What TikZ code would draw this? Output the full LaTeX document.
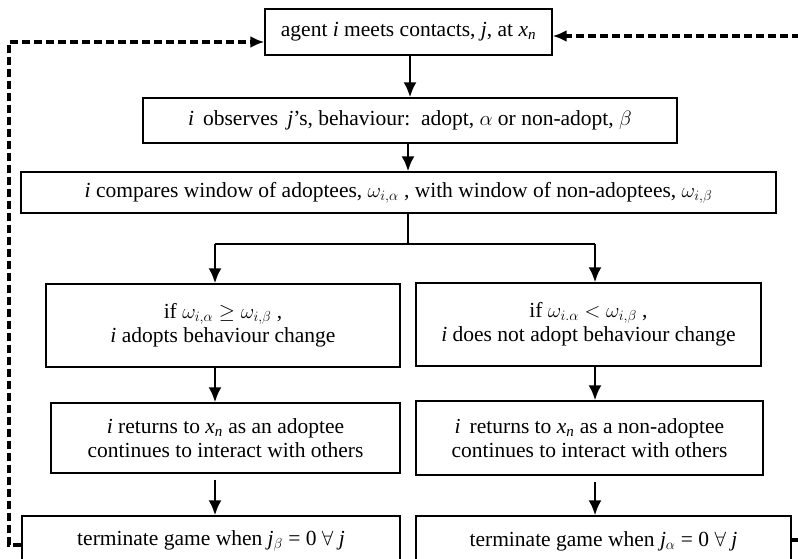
\documentclass[tikz,border=0pt]{standalone}
\usepackage{fontspec}
\setmainfont{Liberation Serif}
\usetikzlibrary{arrows.meta,calc}
\begin{document}
\begin{tikzpicture}[x=1pt,y=-1pt,
  box/.style={draw, line width=1.3pt, align=center, inner sep=2pt,
    font=\fontsize{21.5}{24}\selectfont},
  flow/.style={line width=2.6pt, -{Latex[length=15pt,width=13pt]}},
  back/.style={line width=3.2pt, dash pattern=on 8pt off 4pt, -{Latex[length=14pt,width=12pt]}}]
\useasboundingbox (0,0) rectangle (798,559);
\node[box, minimum width=287pt, minimum height=46pt] (B1) at (408.5,32)
  {agent \textit{i} meets contacts, \textit{j}, at \textit{x\textsubscript{n}}};
\node[box, minimum width=534pt, minimum height=45pt] (B2) at (410,120.5)
  {\textit{i}\, observes\, \textit{j}'s, behaviour:\, adopt, $\alpha$ or non-adopt, $\beta$};
\node[box, minimum width=755pt, minimum height=41pt] (B3) at (398.5,192.5)
  {\textit{i} compares window of adoptees, $\omega_{i,\alpha}$ , with window of non-adoptees, $\omega_{i,\beta}$};
\node[box, minimum width=354pt, minimum height=83pt] (B4L) at (223,325.5)
  {if $\omega_{i,\alpha}\geq\omega_{i,\beta}$ ,\\ \textit{i} adopts behaviour change};
\node[box, minimum width=345pt, minimum height=83pt] (B4R) at (588.5,324.5)
  {if $\omega_{i.\alpha}<\omega_{i,\beta}$ ,\\ \textit{i} does not adopt behaviour change};
\node[box, minimum width=349pt, minimum height=70pt] (B5L) at (225.5,438)
  {\textit{i} returns to \textit{x\textsubscript{n}} as an adoptee\\ continues to interact with others};
\node[box, minimum width=347pt, minimum height=74pt] (B5R) at (589.5,438)
  {\textit{i}\, returns to \textit{x\textsubscript{n}} as a non-adoptee\\ continues to interact with others};
\node[box, minimum width=378pt, minimum height=50pt] (B6L) at (211,541)
  {terminate game when \textit{j}\textsubscript{$\beta$} = 0 $\forall$ \textit{j}};
\node[box, minimum width=375pt, minimum height=50pt] (B6R) at (603.5,541)
  {terminate game when \textit{j}\textsubscript{$\alpha$} = 0 $\forall$ \textit{j}};
% main flow
\coordinate (split) at (408,244);
\coordinate (L) at (215,0);
\coordinate (R) at (595,0);
\draw[flow] (B1.south -| 410,0) -- (B2.north -| 410,0);
\draw[flow] (B2.south -| split) -- (B3.north -| split);
\draw[line width=1.1pt] (B3.south -| split) -- (split);
\draw[line width=1.1pt] (L |- split) -- (R |- split);
\draw[flow] (L |- split) -- (L |- B4L.north);
\draw[flow] (R |- split) -- (R |- B4R.north);
\draw[flow] (L |- B4L.south) -- (L |- B5L.north);
\draw[flow] (R |- B4R.south) -- (R |- B5R.north);
\draw[flow] ($(L |- B5L.south)+(0,6)$) -- (L |- B6L.north);
\draw[flow] ($(R |- B5R.south)+(0,6)$) -- (R |- B6R.north);
% feedback loops
\coordinate (lc1) at (9,545);
\coordinate (lc2) at (9,42);
\draw[back] (B6L.west |- lc1) -- (lc1) -- (lc2) -- (B1.west |- lc2);
\coordinate (rc1) at (802,540);
\coordinate (rc2) at (802,36);
\draw[back] (B6R.east |- rc1) -- (rc1) -- (rc2) -- (B1.east |- rc2);
\end{tikzpicture}
\end{document}
